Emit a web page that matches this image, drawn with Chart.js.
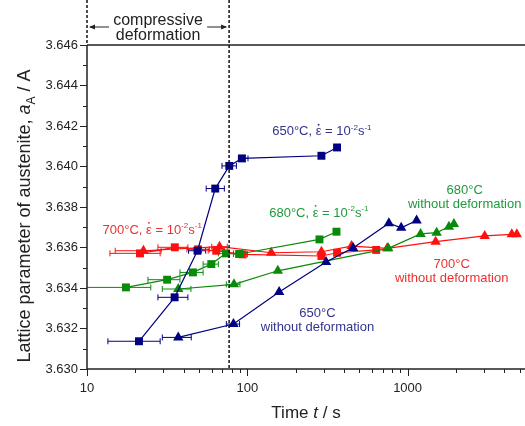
<!DOCTYPE html>
<html>
<head>
<meta charset="utf-8">
<script src="https://cdn.jsdelivr.net/npm/chart.js@4.4.1/dist/chart.umd.min.js"></script>
<style>body{margin:0;background:#fff}</style>
</head>
<body>
<canvas id="chart" width="525" height="426"></canvas>
<script>
// time in s, lattice parameter in A, error bars as [low, high] time
const t650d = [21.1, 35.2, 48.9, 63.1, 77.2, 92.6, 290, 363];
const a650d = [3.63137, 3.63354, 3.63584, 3.63891, 3.64003, 3.64040, 3.64053, 3.64094];
const err650d = [[13.5, 28.6], [27.7, 42.6], [43, 55], [55.4, 71.9], [69.5, 85.5], [88, 101], null, null];

const t650n = [37.1, 82, 158, 310, 457, 764, 912, 1138];
const a650n = [3.63156, 3.63222, 3.63380, 3.63528, 3.63598, 3.63720, 3.63697, 3.63733];
const err650n = [[29.5, 44.7], [74, 89.5], null, null, null, null, null, null];

const t680d = [17.5, 31.6, 45.8, 59.6, 73.6, 89, 282, 360];
const a680d = [3.63403, 3.63441, 3.63477, 3.63518, 3.63571, 3.63568, 3.63640, 3.63678];
const err680d = [[8, 25], [24, 38], [38, 53], [53, 66], [66, 82], [82, 100], null, null];

const t680n = [37.1, 82.6, 155, 757, 1205, 1518, 1811, 1945];
const a680n = [3.63395, 3.63418, 3.63485, 3.63596, 3.63667, 3.63673, 3.63703, 3.63716];
const err680n = [[29.5, 44.5], [74, 90], null, null, null, null, null, null];

const t700d = [21.4, 35.3, 49.3, 64, 93.5, 290, 363, 637];
const a700d = [3.63571, 3.63601, 3.63591, 3.63584, 3.63566, 3.63558, 3.63574, 3.63588];
const err700d = [[13.9, 28.6], [27.7, 42.6], [42, 58], [57, 72], [85, 100], null, null, null];

const t700n = [22.5, 67.1, 141, 290, 447, 746, 1496, 3027, 4467, 4800];
const a700n = [3.63584, 3.63604, 3.63574, 3.63579, 3.63607, 3.63596, 3.63629, 3.63657, 3.63665, 3.63665];
const err700n = [[15, 29], [60, 75], null, null, null, null, null, null, null, null];

const xMajorLabels = [10, 100, 1000];
const deformEnd = 77;   // end of compressive deformation, s

const NAVY = '#000080', GREEN = '#0a8a0a', RED = '#ff1010';
const FAM = '"Liberation Sans", Arial, sans-serif';

function series(label, ts, as, errs, color, style) {
  return {
    label: label,
    data: ts.map((t, i) => ({ x: t, y: as[i] })),
    errs: errs,
    borderColor: color,
    backgroundColor: color,
    borderWidth: 1.2,
    pointStyle: style,
    pointRadius: style === 'rect' ? 5.6 : 6,
    pointBorderWidth: 0,
    tension: 0
  };
}

// text with italic / superscript / subscript / dotted pieces
function richText(ctx, parts, x, y, align, size, color) {
  const fontOf = s => (s === 'i' ? 'italic ' : '') + Math.round(s === 'sup' || s === 'sub' ? size * 0.65 : size) + 'px ' + FAM;
  let w = 0;
  parts.forEach(([t, s]) => { ctx.font = fontOf(s); w += ctx.measureText(t).width; });
  let cx = align === 'center' ? x - w / 2 : x;
  ctx.textAlign = 'left';
  ctx.textBaseline = 'alphabetic';
  ctx.fillStyle = color;
  parts.forEach(([t, s]) => {
    ctx.font = fontOf(s);
    const dy = s === 'sup' ? -size * 0.42 : s === 'sub' ? size * 0.3 : 0;
    const tw = ctx.measureText(t).width;
    ctx.fillText(t, cx, y + dy);
    if (s === 'dot') {
      ctx.beginPath();
      ctx.arc(cx + tw / 2, y - size * 0.82, size * 0.075, 0, Math.PI * 2);
      ctx.fill();
    }
    cx += tw;
  });
}

const rateParts = T => [[T + '°C, ', ''], ['\u03B5', 'dot'], [' = 10', ''], ['-2', 'sup'], ['s', ''], ['-1', 'sup']];

const errorBars = {
  id: 'errorBars',
  beforeDatasetsDraw(chart) {
    const ctx = chart.ctx, xs = chart.scales.x, a = chart.chartArea;
    ctx.save();
    ctx.beginPath();
    ctx.rect(a.left, a.top, a.right - a.left, a.bottom - a.top);
    ctx.clip();
    chart.data.datasets.forEach(ds => {
      ctx.strokeStyle = ds.borderColor;
      ctx.lineWidth = 1;
      ds.data.forEach((p, i) => {
        const e = ds.errs[i];
        if (!e) return;
        const y = chart.scales.y.getPixelForValue(p.y);
        const x1 = xs.getPixelForValue(e[0]), x2 = xs.getPixelForValue(e[1]);
        ctx.beginPath();
        ctx.moveTo(x1, y); ctx.lineTo(x2, y);
        ctx.moveTo(x1, y - 3); ctx.lineTo(x1, y + 3);
        ctx.moveTo(x2, y - 3); ctx.lineTo(x2, y + 3);
        ctx.stroke();
      });
    });
    ctx.restore();
  }
};

const decorations = {
  id: 'decorations',
  afterDraw(chart) {
    const ctx = chart.ctx, a = chart.chartArea, xs = chart.scales.x, ys = chart.scales.y;
    ctx.save();
    // frame: left, bottom, top
    ctx.strokeStyle = '#222';
    ctx.lineWidth = 1.5;
    ctx.beginPath();
    ctx.moveTo(a.left, a.top); ctx.lineTo(a.right, a.top);
    ctx.moveTo(a.left, a.top); ctx.lineTo(a.left, a.bottom); ctx.lineTo(a.right, a.bottom);
    ctx.stroke();
    // tick marks
    ctx.lineWidth = 1;
    ctx.beginPath();
    for (let k = 3630; k <= 3646; k++) {
      const y = Math.round(ys.getPixelForValue(k / 1000)) + 0.5;
      const len = k % 2 === 0 ? 7 : 4;
      ctx.moveTo(a.left - len, y); ctx.lineTo(a.left, y);
    }
    for (let d = 10; d <= 1000; d *= 10) {
      for (let m = 1; m <= 9; m++) {
        const v = d * m;
        if (v > xs.max) break;
        const x = Math.round(xs.getPixelForValue(v)) + 0.5;
        const len = m === 1 ? 7 : 4;
        ctx.moveTo(x, a.bottom); ctx.lineTo(x, a.bottom + len);
      }
    }
    ctx.stroke();
    // dashed guide lines
    ctx.setLineDash([3, 2]);
    ctx.lineWidth = 1.5;
    ctx.strokeStyle = '#111';
    const xd = xs.getPixelForValue(deformEnd);
    ctx.beginPath();
    ctx.moveTo(a.left, 0); ctx.lineTo(a.left, a.top);
    ctx.moveTo(xd, 0); ctx.lineTo(xd, a.bottom);
    ctx.stroke();
    ctx.setLineDash([]);
    // compressive deformation label with arrows
    const cx = (a.left + xd) / 2;
    ctx.fillStyle = '#222';
    ctx.font = '16px ' + FAM;
    ctx.textAlign = 'center';
    ctx.textBaseline = 'alphabetic';
    ctx.fillText('compressive', cx, 25);
    ctx.fillText('deformation', cx, 40);
    ctx.lineWidth = 1.2;
    ctx.strokeStyle = '#222';
    ctx.beginPath();
    ctx.moveTo(a.left + 3, 27); ctx.lineTo(a.left + 22, 27);
    ctx.moveTo(xd - 22, 27); ctx.lineTo(xd - 3, 27);
    ctx.stroke();
    ctx.beginPath();
    ctx.moveTo(a.left + 2, 27); ctx.lineTo(a.left + 8, 24.5); ctx.lineTo(a.left + 8, 29.5); ctx.closePath();
    ctx.moveTo(xd - 2, 27); ctx.lineTo(xd - 8, 24.5); ctx.lineTo(xd - 8, 29.5); ctx.closePath();
    ctx.fill();
    // series labels
    const X = v => xs.getPixelForValue(v), Y = v => ys.getPixelForValue(v);
    richText(ctx, rateParts('650'), X(143), Y(3.64154), 'left', 13, '#33338f');
    richText(ctx, rateParts('680'), X(137), Y(3.63753), 'left', 13, '#1f9a3c');
    richText(ctx, rateParts('700'), X(12.5), Y(3.63669), 'left', 13, '#ee3030');
    const twoLine = (T, t, aTop, color) => {
      richText(ctx, [[T + '°C', '']], X(t), Y(aTop), 'center', 13, color);
      richText(ctx, [['without deformation', '']], X(t), Y(aTop) + 14, 'center', 13, color);
    };
    twoLine('680', 2271, 3.63866, '#1f9a3c');
    twoLine('700', 1884, 3.63500, '#ee3030');
    twoLine('650', 274, 3.63255, '#33338f');
    // axis titles
    richText(ctx, [['Time ', ''], ['t', 'i'], [' / s', '']], (a.left + a.right) / 2, 418, 'center', 17, '#222');
    ctx.translate(30, 216);
    ctx.rotate(-Math.PI / 2);
    richText(ctx, [['Lattice parameter of austenite, ', ''], ['a', 'i'], ['A', 'sub'], [' / A', '']], 0, 0, 'center', 18, '#222');
    ctx.restore();
  }
};

const ctx = document.getElementById('chart').getContext('2d');
const chart = new Chart(ctx, {
  type: 'line',
  data: {
    datasets: [
      series('650 def', t650d, a650d, err650d, NAVY, 'rect'),
      series('650', t650n, a650n, err650n, NAVY, 'triangle'),
      series('680 def', t680d, a680d, err680d, GREEN, 'rect'),
      series('680', t680n, a680n, err680n, GREEN, 'triangle'),
      series('700 def', t700d, a700d, err700d, RED, 'rect'),
      series('700', t700n, a700n, err700n, RED, 'triangle')
    ]
  },
  options: {
    responsive: false,
    animation: false,
    devicePixelRatio: 1,
    layout: { autoPadding: false, padding: { top: 45, right: 0, left: 0, bottom: 0 } },
    plugins: { legend: { display: false }, tooltip: { enabled: false } },
    scales: {
      x: {
        type: 'logarithmic',
        min: 10,
        max: 5400,
        grid: { display: false, tickLength: 12 },
        border: { display: false },
        ticks: {
          autoSkip: false,
          maxRotation: 0,
          padding: 0,
          color: '#222',
          font: { family: FAM, size: 13 },
          callback: v => xMajorLabels.includes(v) ? String(v) : ''
        },
        afterFit: s => { s.height = 57; s.paddingLeft = 0; s.paddingRight = 0; }
      },
      y: {
        min: 3.630,
        max: 3.646,
        grid: { display: false, tickLength: 9 },
        border: { display: false },
        ticks: {
          stepSize: 0.001,
          padding: 0,
          color: '#222',
          font: { family: FAM, size: 13 },
          callback: v => { const k = Math.round(v * 1000); return k % 2 === 0 ? (k / 1000).toFixed(3) : ''; }
        },
        afterFit: s => { s.width = 87; }
      }
    }
  },
  plugins: [errorBars, decorations]
});
</script>
</body>
</html>
